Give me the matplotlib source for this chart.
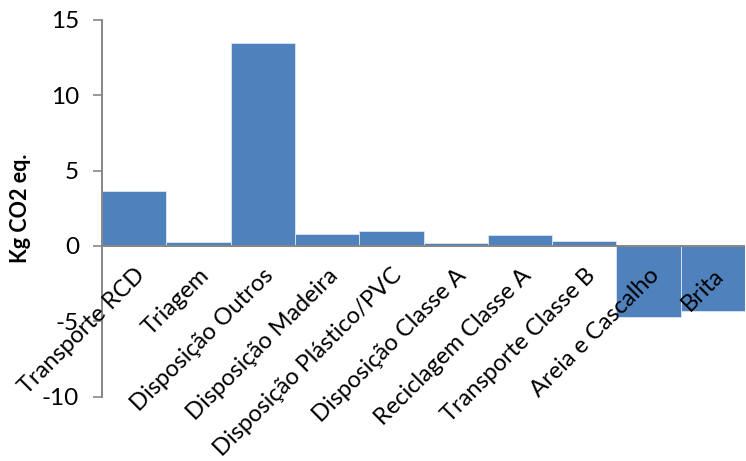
import matplotlib
matplotlib.use("Agg")
import matplotlib.pyplot as plt
import numpy as np

categories = ["Transporte RCD", "Triagem", "Disposição Outros", "Disposição Madeira",
              "Disposição Plástico/PVC", "Disposição Classe A", "Reciclagem Classe A",
              "Transporte Classe B", "Areia e Cascalho", "Brita"]
values = [3.64, 0.25, 13.5, 0.76, 0.98, 0.2, 0.7, 0.3, -4.72, -4.35]
yticks = [-10, -5, 0, 5, 10, 15]

plt.rcParams["font.family"] = ["Lato", "DejaVu Sans"]

fig = plt.figure(figsize=(7.46, 4.61), dpi=100)
ax = fig.add_axes([102 / 746, 1 - 396.5 / 461, 643 / 746, (396.5 - 20) / 461])

x = np.arange(len(categories))
ax.bar(x, values, width=1.0, color="#4F81BD", edgecolor="#DCE6F2", linewidth=0.6, zorder=2)

ax.set_xlim(-0.5, len(categories) - 0.5)
ax.set_ylim(-10, 15)
ax.set_yticks(yticks)
ax.set_yticklabels([str(v) for v in yticks], fontsize=17.5)
ax.tick_params(axis="y", direction="out", length=6.5, width=1.2, color="#868686", pad=10)
ax.set_xticks([])

for s in ["top", "right", "bottom"]:
    ax.spines[s].set_visible(False)
ax.spines["left"].set_color("#868686")
ax.spines["left"].set_linewidth(1.4)
ax.axhline(0, color="#868686", linewidth=1.4, zorder=3)

for i, name in enumerate(categories):
    ax.annotate(name, xy=(i, 0), xytext=(0, -13.5), textcoords="offset points",
                rotation=45, rotation_mode="anchor", ha="right", va="top",
                fontsize=17, zorder=4)

fig.text(21 / 746, 1 - 208 / 461, "Kg CO2 eq.", rotation=90, ha="center", va="center",
         fontsize=15.5, fontweight="bold")

fig.savefig("out.png", dpi=100)
